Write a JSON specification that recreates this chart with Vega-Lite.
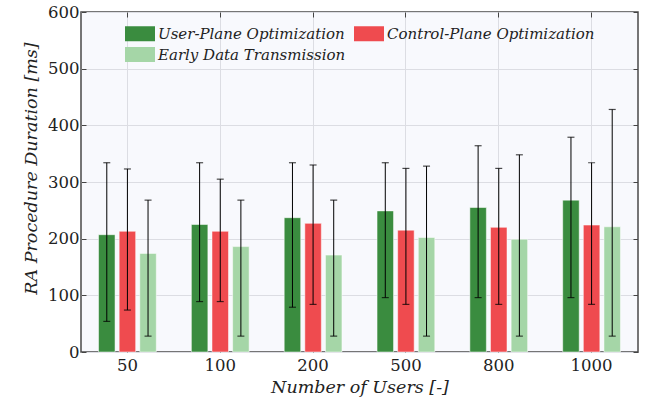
{
  "$schema": "https://vega.github.io/schema/vega-lite/v6.json",
  "width": 557,
  "height": 340,
  "autosize": "none",
  "padding": {"left": 81, "top": 12, "right": 7, "bottom": 58},
  "background": "white",
  "config": {
    "view": {"fill": "#f8f9fd", "stroke": "#4a4a4a", "strokeWidth": 1.5},
    "font": "DejaVu Serif",
    "axis": {
      "labelFont": "DejaVu Serif",
      "titleFont": "DejaVu Serif",
      "labelFontSize": 16.5,
      "titleFontSize": 17.5,
      "titleFontStyle": "italic",
      "titleFontWeight": "normal",
      "labelColor": "#222222",
      "titleColor": "#222222",
      "gridColor": "#dcdde3",
      "gridWidth": 1,
      "domain": false,
      "tickColor": "#444444",
      "tickSize": -5,
      "tickWidth": 1
    }
  },
  "data": {
    "values": [
      {"users": "50", "series": "User-Plane Optimization", "mean": 207, "lo": 54, "hi": 334},
      {"users": "50", "series": "Control-Plane Optimization", "mean": 213, "lo": 74, "hi": 323},
      {"users": "50", "series": "Early Data Transmission", "mean": 174, "lo": 28, "hi": 268},
      {"users": "100", "series": "User-Plane Optimization", "mean": 225, "lo": 89, "hi": 334},
      {"users": "100", "series": "Control-Plane Optimization", "mean": 213, "lo": 89, "hi": 305},
      {"users": "100", "series": "Early Data Transmission", "mean": 186, "lo": 28, "hi": 268},
      {"users": "200", "series": "User-Plane Optimization", "mean": 237, "lo": 79, "hi": 334},
      {"users": "200", "series": "Control-Plane Optimization", "mean": 227, "lo": 84, "hi": 330},
      {"users": "200", "series": "Early Data Transmission", "mean": 171, "lo": 28, "hi": 268},
      {"users": "500", "series": "User-Plane Optimization", "mean": 249, "lo": 96, "hi": 334},
      {"users": "500", "series": "Control-Plane Optimization", "mean": 215, "lo": 84, "hi": 324},
      {"users": "500", "series": "Early Data Transmission", "mean": 202, "lo": 28, "hi": 328},
      {"users": "800", "series": "User-Plane Optimization", "mean": 255, "lo": 96, "hi": 364},
      {"users": "800", "series": "Control-Plane Optimization", "mean": 220, "lo": 84, "hi": 324},
      {"users": "800", "series": "Early Data Transmission", "mean": 199, "lo": 28, "hi": 348},
      {"users": "1000", "series": "User-Plane Optimization", "mean": 268, "lo": 96, "hi": 379},
      {"users": "1000", "series": "Control-Plane Optimization", "mean": 224, "lo": 84, "hi": 334},
      {"users": "1000", "series": "Early Data Transmission", "mean": 221, "lo": 28, "hi": 428}
    ]
  },
  "resolve": {"axis": {"x": "independent", "y": "independent"}},
  "layer": [
    {
      "mark": {"type": "bar", "stroke": "white", "strokeOpacity": 0.5, "strokeWidth": 1},
      "encoding": {
        "x": {
          "field": "users", "type": "nominal",
          "sort": ["50", "100", "200", "500", "800", "1000"],
          "scale": {"paddingInner": 0, "paddingOuter": 0},
          "axis": {"title": "Number of Users [-]", "labelAngle": 0, "bandPosition": 0.5, "labelPadding": 10, "titlePadding": 5, "grid": true}
        },
        "xOffset": {
          "field": "series",
          "sort": ["User-Plane Optimization", "Control-Plane Optimization", "Early Data Transmission"],
          "scale": {"paddingInner": 0.2, "paddingOuter": 0.85}
        },
        "y": {
          "field": "mean", "type": "quantitative",
          "scale": {"domain": [0, 600]},
          "axis": {"title": "RA Procedure Duration [ms]", "values": [0, 100, 200, 300, 400, 500, 600], "grid": true, "labelPadding": 7, "titlePadding": 7, "titleY": 156}
        },
        "color": {
          "field": "series", "type": "nominal",
          "scale": {
            "domain": ["User-Plane Optimization", "Early Data Transmission", "Control-Plane Optimization"],
            "range": ["#3a8c3f", "#a5d6a7", "#ef4b4f"]
          },
          "legend": {
            "orient": "none", "legendX": 44, "legendY": 14, "columns": 2, "title": null,
            "symbolType": "M-1,-1H3V1H-1Z", "symbolSize": 225, "symbolStrokeWidth": 0,
            "labelFont": "DejaVu Serif", "labelFontSize": 15, "labelFontStyle": "italic",
            "labelColor": "#222222", "columnPadding": 8, "rowPadding": 5, "labelOffset": 18,
            "padding": 0, "labelLimit": 400
          }
        }
      }
    },
    {
      "mark": {"type": "rule", "color": "black", "strokeWidth": 1},
      "encoding": {
        "x": {"field": "users", "type": "nominal", "sort": ["50", "100", "200", "500", "800", "1000"], "axis": null},
        "xOffset": {"field": "series", "sort": ["User-Plane Optimization", "Control-Plane Optimization", "Early Data Transmission"]},
        "y": {"field": "lo", "type": "quantitative", "axis": null},
        "y2": {"field": "hi"}
      }
    },
    {
      "mark": {"type": "tick", "color": "black", "size": 7, "thickness": 1.2},
      "encoding": {
        "x": {"field": "users", "type": "nominal", "sort": ["50", "100", "200", "500", "800", "1000"], "axis": null},
        "xOffset": {"field": "series", "sort": ["User-Plane Optimization", "Control-Plane Optimization", "Early Data Transmission"]},
        "y": {"field": "lo", "type": "quantitative", "axis": null}
      }
    },
    {
      "mark": {"type": "tick", "color": "black", "size": 7, "thickness": 1.2},
      "encoding": {
        "x": {"field": "users", "type": "nominal", "sort": ["50", "100", "200", "500", "800", "1000"], "axis": {"orient": "top", "labels": false, "title": null, "grid": false, "bandPosition": 0.5}},
        "xOffset": {"field": "series", "sort": ["User-Plane Optimization", "Control-Plane Optimization", "Early Data Transmission"]},
        "y": {"field": "hi", "type": "quantitative", "axis": {"orient": "right", "labels": false, "title": null, "grid": false, "values": [0, 100, 200, 300, 400, 500, 600]}}
      }
    }
  ]
}
